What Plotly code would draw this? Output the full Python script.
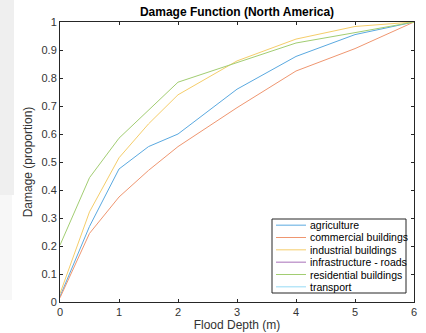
import plotly.graph_objects as go

depth = [0, 0.5, 1, 1.5, 2, 3, 4, 5, 6]
agriculture = [0.02, 0.27, 0.475, 0.555, 0.60, 0.76, 0.877, 0.955, 1.0]
commercial = [0.015, 0.245, 0.375, 0.47, 0.555, 0.694, 0.825, 0.905, 1.0]
industrial = [0.03, 0.322, 0.515, 0.636, 0.74, 0.861, 0.939, 0.984, 1.0]
infrastructure = []
residential = [0.203, 0.444, 0.585, 0.685, 0.785, 0.855, 0.925, 0.962, 1.0]
transport = []

names = ["agriculture", "commercial buildings", "industrial buildings",
         "infrastructure - roads", "residential buildings", "transport"]
series = [agriculture, commercial, industrial, infrastructure, residential, transport]
colors = ["#5aa9e0", "#ef9670", "#f5cd6a", "#a870b8", "#a2cd72", "#96daf5"]

W, H = 426, 333
L, R, T, B = 60, 12, 22, 31
pw, ph = W - L - R, H - T - B
FONT = "Liberation Sans, Arial"

fig = go.Figure()
for n, s, c in zip(names, series, colors):
    fig.add_trace(go.Scatter(x=depth[:len(s)], y=s, mode="lines", name=n,
                             line=dict(color=c, width=1), showlegend=False))

axis_common = dict(showgrid=False, zeroline=False, ticks="inside", ticklen=3,
                   tickcolor="#262626", linecolor="#262626", linewidth=1,
                   mirror="ticks", showline=True, automargin=False,
                   tickfont=dict(family=FONT, size=11, color="#333333"))
fig.update_xaxes(range=[0, 6], dtick=1, tick0=0,
                 title=dict(text="Flood Depth (m)", standoff=2,
                            font=dict(family=FONT, size=12, color="#333333")),
                 **axis_common)
fig.update_yaxes(range=[0, 1], dtick=0.1, tick0=0, tickformat="~g",
                 title=dict(text="Damage (proportion)", standoff=6,
                            font=dict(family=FONT, size=12, color="#333333")),
                 **axis_common)

# manual compact legend (MATLAB style)
lx0, lx1 = (272 - L) / pw, (406 - L) / pw
ly_top, ly_bot = (H - B - 219) / ph, (H - B - 293) / ph
shapes = [dict(type="rect", xref="paper", yref="paper", x0=lx0, x1=lx1, y0=ly_bot, y1=ly_top,
               line=dict(color="#262626", width=1), fillcolor="white", layer="above")]
annotations = []
step = (ly_top - ly_bot) / 6
for i, (n, c) in enumerate(zip(names, colors)):
    yc = ly_top - step * (i + 0.5)
    shapes.append(dict(type="line", xref="paper", yref="paper",
                       x0=lx0 + 4 / pw, x1=lx0 + 34 / pw, y0=yc, y1=yc,
                       line=dict(color=c, width=1), layer="above"))
    annotations.append(dict(xref="paper", yref="paper", x=lx0 + 36 / pw, y=yc,
                            xanchor="left", yanchor="middle", showarrow=False, text=n,
                            font=dict(family=FONT, size=10.5, color="#000000")))

# light gray band on left edge of the image
shapes.append(dict(type="rect", xref="paper", yref="paper", x0=-L / pw, x1=(14 - L) / pw,
                   y0=(H - B - 195) / ph, y1=(H - B) / ph + T / ph + 0.01, line=dict(width=0),
                   fillcolor="#efefef", layer="below"))
shapes.append(dict(type="rect", xref="paper", yref="paper", x0=-L / pw, x1=(12 - L) / pw,
                   y0=(H - B - 300) / ph, y1=(H - B - 195) / ph, line=dict(width=0),
                   fillcolor="#f7f7f7", layer="below"))

fig.update_layout(
    width=W, height=H,
    margin=dict(l=L, r=R, t=T, b=B),
    paper_bgcolor="white", plot_bgcolor="white",
    title=dict(text="<b>Damage Function (North America)</b>", x=(L + pw / 2) / W, xanchor="center",
               y=1 - 12 / H, yanchor="middle",
               font=dict(family=FONT, size=12, color="#000000")),
    shapes=shapes, annotations=annotations, showlegend=False,
)

fig.write_html("out.html", config={"displayModeBar": False},
               post_script="document.body.style.margin='0';document.body.style.overflow='hidden';")
